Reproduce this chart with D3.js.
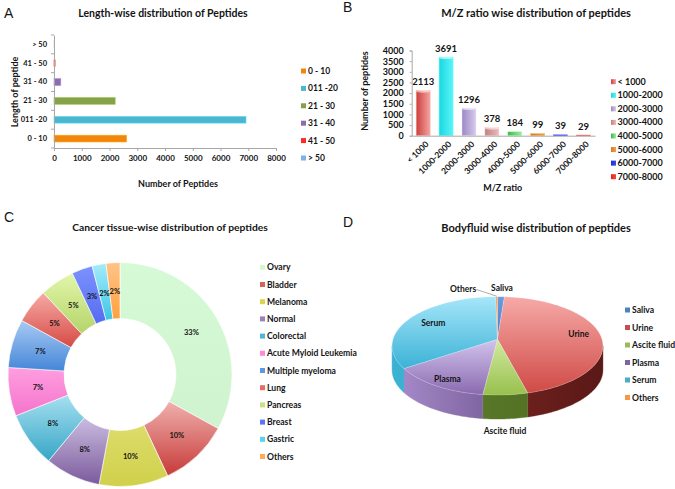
<!DOCTYPE html>
<html><head><meta charset="utf-8">
<script src="https://cdn.jsdelivr.net/npm/d3@7"></script>
<style>
body{margin:0;background:#fff}
svg{display:block}
text{font-family:Lato,"Open Sans",sans-serif;fill:#141414}
.b{font-weight:bold}
.panel{font-family:"Liberation Sans",Arial,sans-serif;font-size:14px;font-weight:normal}
</style>
</head><body>
<svg id="c" width="675" height="489"></svg>
<script>
// ---------- Panel A data ----------
const lengthCategories = ["0 - 10", "011 -20", "21 - 30", "31 - 40", "41 - 50", "> 50"];
const lengthValues = [2615, 6920, 2205, 245, 40, 12];
const lengthTicks = [0, 1000, 2000, 3000, 4000, 5000, 6000, 7000, 8000];
const lengthColors = ["#f0860c", "#4db6cf", "#84a247", "#8a6db0", "#ff2a22", "#7fb0ea"];

// ---------- Panel B data ----------
const mzCategories = ["< 1000", "1000-2000", "2000-3000", "3000-4000", "4000-5000", "5000-6000", "6000-7000", "7000-8000"];
const mzValues = [2113, 3691, 1296, 378, 184, 99, 39, 29];
const mzTicks = [0, 500, 1000, 1500, 2000, 2500, 3000, 3500, 4000];
const mzColorsDark = ["#cc3f3c", "#19d8e0", "#9a88c4", "#c47e7e", "#3fb64a", "#d9781c", "#1f2fd8", "#e52020"];
const mzColorsLight = ["#f4a4a0", "#5af4f8", "#d6cbec", "#ecbcbc", "#9aeea0", "#f0a050", "#3a4af0", "#f84a3a"];

// ---------- Panel C data ----------
const tissueCategories = ["Ovary", "Bladder", "Melanoma", "Normal", "Colorectal", "Acute Myloid Leukemia", "Multiple myeloma", "Lung", "Pancreas", "Breast", "Gastric", "Others"];
const tissuePercents = [33, 10, 10, 8, 8, 7, 7, 5, 5, 3, 2, 2];
const tissueTop = ["#d6fad6", "#f0b0ae", "#dcdc6a", "#cbbce0", "#a6dff0", "#ff9ee0", "#a9caf4", "#f6aaa6", "#e2f6aa", "#7c92ff", "#a4ecfa", "#ffc488"];
const tissueBottom = ["#cff2cf", "#c63a38", "#d0d04c", "#7a5a9c", "#36a6c6", "#f474cc", "#4486d8", "#d64a44", "#b4d46a", "#566cf0", "#3cc6e6", "#ffa040"];
const tissueLegend = ["#d2f7d2", "#d9605c", "#d6d650", "#9a82c0", "#4cb8d6", "#ff88d6", "#5c98e6", "#ea6a66", "#c6e286", "#5c74f8", "#56d4f0", "#ffac58"];

// ---------- Panel D data ----------
const fluidCategories = ["Saliva", "Urine", "Ascite fluid", "Plasma", "Serum", "Others"];
const fluidPercents = [1.2, 44.8, 6.0, 13.6, 34.2, 0.3];
const fluidTop = ["#6b9ae0", "#f6aaa8", "#d2eaa0", "#d2c4ec", "#a6e6fa", "#f8a050"];
const fluidBottom = ["#4f7fc8", "#d04a46", "#98c04e", "#8a6ab0", "#3cb2d6", "#f08a3a"];
const fluidWallL = ["#3e6aa8", "#8a2e2a", "#60802c", "#a88ccc", "#3cb2d2", "#c06a20"];
const fluidWallR = ["#2e5288", "#5a1816", "#4e6a20", "#4a3268", "#2a98b8", "#a05818"];
const fluidLegend = ["#4f81bd", "#c0504d", "#9bbb59", "#8064a2", "#4bacc6", "#f79646"];

const svg = d3.select("#c");
const defs = svg.append("defs");

function vgrad(id, top, bottom) {
  const g = defs.append("linearGradient").attr("id", id).attr("x1", 0).attr("y1", 0).attr("x2", 0).attr("y2", 1);
  g.append("stop").attr("offset", "0%").attr("stop-color", top);
  g.append("stop").attr("offset", "100%").attr("stop-color", bottom);
}
function hgrad(id, left, right, x1, x2) {
  const g = defs.append("linearGradient").attr("id", id);
  if (x1 !== undefined) g.attr("gradientUnits", "userSpaceOnUse").attr("x1", x1).attr("x2", x2).attr("y1", 0).attr("y2", 0);
  else g.attr("x1", 0).attr("y1", 0).attr("x2", 1).attr("y2", 0);
  g.append("stop").attr("offset", "0%").attr("stop-color", left);
  g.append("stop").attr("offset", "100%").attr("stop-color", right);
}

// Panel letters
[["A", 4, 18], ["B", 343, 12], ["C", 4, 222], ["D", 343, 227]].forEach(([t, x, y]) =>
  svg.append("text").attr("class", "panel").attr("x", x).attr("y", y).text(t));

// ===================== Panel A =====================
{
  const g = svg.append("g");
  const x = d3.scaleLinear().domain([0, 8000]).range([54, 276]);
  const y = d3.scaleBand().domain(lengthCategories).range([148, 35]);
  g.append("text").attr("class", "b").attr("x", 163).attr("y", 16.5).attr("text-anchor", "middle").style("font-size", "10.5px").text("Length-wise distribution of Peptides");

  const bh = y.bandwidth() * 0.36;
  g.selectAll("rect.bar").data(lengthValues).join("rect")
    .attr("x", x(0)).attr("y", (d, i) => y(lengthCategories[i]) + (y.bandwidth() - bh) / 2)
    .attr("width", d => x(d) - x(0)).attr("height", bh)
    .attr("fill", (d, i) => lengthColors[i]).attr("stroke", (d, i) => d3.color(lengthColors[i]).brighter(0.6)).attr("stroke-width", 0.6);

  const ax = g.append("g").attr("transform", "translate(0,148)")
    .call(d3.axisBottom(x).tickValues(lengthTicks).tickSize(3).tickPadding(4).tickFormat(d3.format("d")));
  ax.selectAll("text").attr("class", "b").style("font-size", "8px").style("font-family", "Lato");
  ax.selectAll("line,path").attr("stroke", "#a8a8a8");

  const ay = g.append("g").attr("transform", "translate(54,0)")
    .call(d3.axisLeft(y).tickSize(0).tickPadding(7));
  ay.selectAll("text").attr("class", "b").style("font-size", "7.5px").style("font-family", "Lato");
  ay.select("path").attr("stroke", "#a8a8a8");
  g.selectAll("line.bt").data(d3.range(lengthCategories.length + 1)).join("line")
    .attr("x1", 51).attr("x2", 54)
    .attr("y1", i => 148 - i * y.step()).attr("y2", i => 148 - i * y.step())
    .attr("stroke", "#a8a8a8");

  g.append("text").attr("class", "b").attr("x", 178).attr("y", 186.5).attr("text-anchor", "middle").style("font-size", "9px").text("Number of Peptides");
  g.append("text").attr("class", "b").attr("transform", "translate(17.5,92) rotate(-90)").attr("text-anchor", "middle").style("font-size", "9px").text("Length of peptide");

  const lg = g.selectAll("g.lg").data(lengthCategories).join("g").attr("transform", (d, i) => `translate(301,${71 + i * 17.4})`);
  lg.append("rect").attr("x", 0).attr("y", -2.5).attr("width", 5).attr("height", 5).attr("fill", (d, i) => lengthColors[i]);
  lg.append("text").attr("class", "b").attr("x", 7).attr("y", 3).style("font-size", "8.5px").text(d => d);
}

// ===================== Panel B =====================
{
  const g = svg.append("g");
  const x = d3.scaleBand().domain(mzCategories).range([411.7, 595]).paddingInner(0.39).paddingOuter(0.195);
  const y = d3.scaleLinear().domain([0, 4000]).range([135.7, 50.5]);
  g.append("text").attr("class", "b").attr("x", 536).attr("y", 17).attr("text-anchor", "middle").style("font-size", "11px").text("M/Z ratio wise distribution of peptides");

  mzCategories.forEach((c, i) => hgrad("mzg" + i, mzColorsDark[i], mzColorsLight[i]));
  g.selectAll("rect.bar").data(mzValues).join("rect")
    .attr("x", (d, i) => x(mzCategories[i])).attr("y", d => y(d))
    .attr("width", x.bandwidth()).attr("height", d => y(0) - y(d))
    .attr("fill", (d, i) => `url(#mzg${i})`)
    .attr("stroke", (d, i) => d3.color(mzColorsLight[i]).brighter(0.3)).attr("stroke-width", 0.5);
  g.selectAll("ellipse.cap").data(mzValues.filter(d => y(0) - y(d) > 5)).join("ellipse")
    .attr("cx", (d) => x(mzCategories[mzValues.indexOf(d)]) + x.bandwidth() / 2).attr("cy", d => y(d) + 0.8)
    .attr("rx", x.bandwidth() / 2).attr("ry", 1.2)
    .attr("fill", "#ffffff").attr("opacity", 0.55);

  g.selectAll("text.val").data(mzValues).join("text").attr("class", "b")
    .attr("x", (d, i) => x(mzCategories[i]) + x.bandwidth() / 2).attr("y", d => y(d) - 5.5)
    .attr("text-anchor", "middle").style("font-size", "9.5px").text(d => d);

  const ay = g.append("g").attr("transform", "translate(411.7,0)")
    .call(d3.axisLeft(y).tickValues(mzTicks).tickSize(2).tickPadding(6).tickFormat(d3.format("d")));
  ay.selectAll("text").attr("class", "b").style("font-size", "9px").style("font-family", "Lato");
  ay.selectAll("line,path").attr("stroke", "#a8a8a8");

  const ax = g.append("g").attr("transform", "translate(0,135.7)")
    .call(d3.axisBottom(x).tickSize(0).tickPadding(0));
  ax.selectAll("path").attr("stroke", "#a8a8a8");
  ax.selectAll("text").attr("class", "b").style("font-size", "8.5px").style("font-family", "Lato")
    .attr("text-anchor", "end").attr("dy", 0).attr("y", 0)
    .attr("transform", "translate(6,9) rotate(-45)");

  g.append("text").attr("class", "b").attr("x", 502.7).attr("y", 190.5).attr("text-anchor", "middle").style("font-size", "9px").text("M/Z ratio");
  g.append("text").attr("class", "b").attr("transform", "translate(367.5,91) rotate(-90)").attr("text-anchor", "middle").style("font-size", "9px").text("Number of peptides");

  const lg = g.selectAll("g.lg").data(mzCategories).join("g").attr("transform", (d, i) => `translate(611,${81.7 + i * 13.57})`);
  lg.append("rect").attr("x", 0).attr("y", -2.5).attr("width", 5).attr("height", 5).attr("fill", (d, i) => `url(#mzg${i})`);
  lg.append("text").attr("class", "b").attr("x", 6.5).attr("y", 3).style("font-size", "9px").text(d => d);
}

// ===================== Panel C =====================
{
  const g = svg.append("g");
  g.append("text").attr("class", "b").attr("x", 170).attr("y", 231).attr("text-anchor", "middle").style("font-size", "10.3px").text("Cancer tissue-wise distribution of peptides");
  tissueCategories.forEach((c, i) => vgrad("tg" + i, tissueTop[i], tissueBottom[i]));
  const pie = d3.pie().sort(null).value(d => d)(tissuePercents);
  const R = 112, r = 56;
  const arc = d3.arc().innerRadius(r).outerRadius(R);
  const lab = d3.arc().innerRadius(83).outerRadius(83);
  const cg = g.append("g").attr("transform", "translate(120,374.5)");
  cg.selectAll("path").data(pie).join("path").attr("d", arc)
    .attr("fill", (d, i) => `url(#tg${i})`).attr("stroke", "#ffffff").attr("stroke-width", 0.6);
  cg.selectAll("text").data(pie).join("text").attr("class", "b")
    .attr("transform", d => `translate(${lab.centroid(d)})`).attr("text-anchor", "middle").attr("dy", "0.35em")
    .style("font-size", "7.5px").text(d => d.data + "%");

  const lg = g.selectAll("g.lg").data(tissueCategories).join("g").attr("transform", (d, i) => `translate(260,${267.3 + i * 17.2})`);
  lg.append("rect").attr("x", 0).attr("y", -2.5).attr("width", 5).attr("height", 5).attr("fill", (d, i) => tissueLegend[i]);
  lg.append("text").attr("class", "b").attr("x", 7).attr("y", 3).style("font-size", "8.6px").text(d => d);
}

// ===================== Panel D =====================
{
  const g = svg.append("g");
  g.append("text").attr("class", "b").attr("x", 536).attr("y", 232).attr("text-anchor", "middle").style("font-size", "11px").text("Bodyfluid wise distribution of peptides");

  const cx = 497.5, cy = 339.3, A = 0.1333, B = 48.3, C = 104.5, depth = 24;
  const proj = (t, dy = 0) => {
    const u = Math.sin(t), v = -Math.cos(t), d = 1 - A * v;
    return [cx + C * u / d, cy + B * v / d + dy];
  };
  const sample = (a0, a1) => {
    const n = Math.max(2, Math.ceil((a1 - a0) / 0.02));
    return d3.range(n + 1).map(k => a0 + (a1 - a0) * k / n);
  };
  const pie = d3.pie().sort(null).value(d => d)(fluidPercents);
  const s1 = Math.acos(-A), s2 = 2 * Math.PI - Math.acos(-A);
  const line = d3.line();

  fluidCategories.forEach((c, i) => {
    vgrad("fg" + i, fluidTop[i], fluidBottom[i]);
    hgrad("fw" + i, fluidWallL[i], fluidWallR[i], cx - C, cx + C);
  });

  pie.forEach((d, i) => {
    const lo = Math.max(d.startAngle, s1), hi = Math.min(d.endAngle, s2);
    if (lo >= hi) return;
    const ts = sample(lo, hi);
    const pts = ts.map(t => proj(t)).concat(ts.slice().reverse().map(t => proj(t, depth)));
    g.append("path").attr("d", line(pts) + "Z").attr("fill", `url(#fw${i})`)
      .attr("stroke", `url(#fw${i})`).attr("stroke-width", 0.4);
  });
  pie.forEach((d, i) => {
    const pts = [[cx, cy]].concat(sample(d.startAngle, d.endAngle).map(t => proj(t)));
    g.append("path").attr("d", line(pts) + "Z").attr("fill", `url(#fg${i})`)
      .attr("stroke", "#ffffff").attr("stroke-width", 0.35).attr("stroke-opacity", 0.6);
  });

  const labels = [
    ["Saliva", 502, 291], ["Urine", 578.7, 337], ["Ascite fluid", 505, 433.5],
    ["Plasma", 447.5, 381.5], ["Serum", 433.3, 325.5], ["Others", 463, 292]
  ];
  labels.forEach(([t, x, y]) => g.append("text").attr("class", "b").attr("x", x).attr("y", y)
    .attr("text-anchor", "middle").style("font-size", "8.5px").text(t));
  const othersMid = proj((pie[5].startAngle + pie[5].endAngle) / 2);
  g.append("line").attr("x1", 476.5).attr("y1", 289.5).attr("x2", othersMid[0]).attr("y2", othersMid[1] - 0.5)
    .attr("stroke", "#888").attr("stroke-width", 0.7);

  const lg = g.selectAll("g.lg").data(fluidCategories).join("g").attr("transform", (d, i) => `translate(625,${310 + i * 17.5})`);
  lg.append("rect").attr("x", 0).attr("y", -2.5).attr("width", 5).attr("height", 5).attr("fill", (d, i) => fluidLegend[i]);
  lg.append("text").attr("class", "b").attr("x", 7).attr("y", 3).style("font-size", "8.6px").text(d => d);
}
</script>
</body></html>
